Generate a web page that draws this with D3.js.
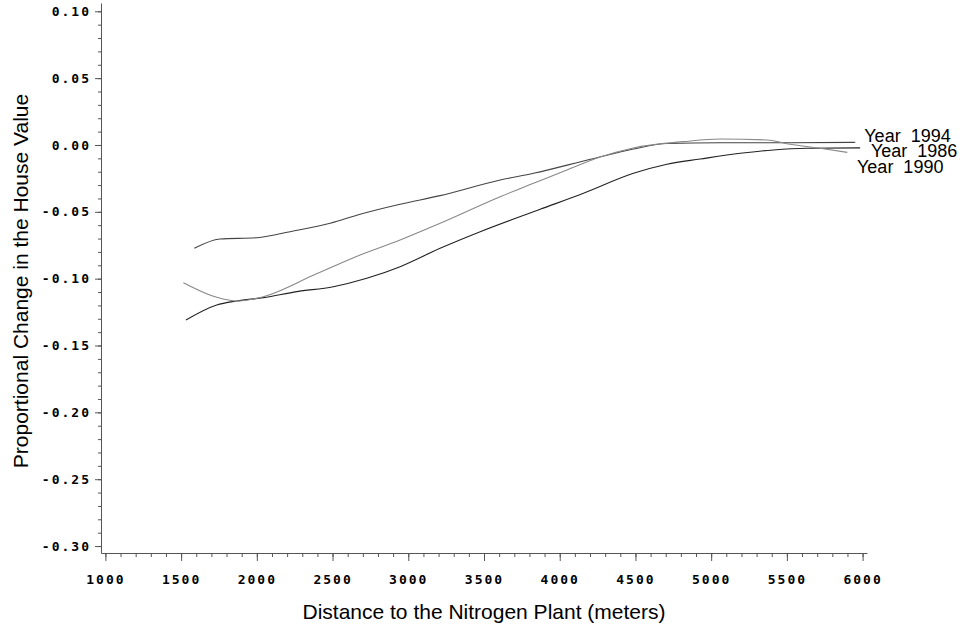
<!DOCTYPE html>
<meta charset="utf-8">
<script src="https://d3js.org/d3.v7.min.js"></script>
<style>
  body { margin: 0; background: #fff; }
  .tick text { font-family: "DejaVu Sans Mono", monospace; font-weight: bold; font-size: 13px; letter-spacing: 2px; fill: #000; }
  .axis path, .axis line { stroke: #555; }
  .title { font-family: "Liberation Sans", Arial, sans-serif; font-size: 21px; fill: #000; }
  .curve-label { font-family: "Liberation Sans", Arial, sans-serif; font-size: 18px; fill: #000; white-space: pre; }
</style>
<div id="chart"></div>
<script>

// tick labels
var xTicks = [1000, 1500, 2000, 2500, 3000, 3500, 4000, 4500, 5000, 5500, 6000];
var yTicks = [-0.30, -0.25, -0.20, -0.15, -0.10, -0.05, 0.00, 0.05, 0.10];

// smoothed curves, distance (m) vs proportional change
var dist1994 = [1587, 1757, 1999, 2241, 2484, 2682, 2946, 3210, 3607, 3827, 4203, 4487, 4708, 5060, 5522, 5952];
var chg1994  = [-0.0773, -0.0703, -0.0694, -0.0643, -0.0586, -0.0518, -0.0443, -0.0379, -0.0262, -0.0212, -0.0107, -0.0030, 0.0011, 0.0017, 0.0017, 0.0020];

var dist1990 = [1515, 1735, 1867, 2043, 2373, 2682, 2946, 3210, 3607, 3827, 4047, 4267, 4485, 4818, 5060, 5369, 5522, 5720, 5899];
var chg1990  = [-0.1030, -0.1139, -0.1167, -0.1135, -0.0975, -0.0823, -0.0711, -0.0586, -0.0387, -0.0287, -0.0187, -0.0090, -0.0022, 0.0025, 0.0045, 0.0037, 0.0005, -0.0025, -0.0055];

var dist1986 = [1532, 1735, 1867, 2043, 2264, 2505, 2726, 2946, 3210, 3475, 3871, 4157, 4487, 4708, 4928, 5192, 5412, 5633, 5984];
var chg1986  = [-0.1309, -0.1197, -0.1167, -0.1142, -0.1097, -0.1060, -0.0997, -0.0910, -0.0773, -0.0649, -0.0481, -0.0361, -0.0212, -0.0144, -0.0105, -0.0062, -0.0037, -0.0025, -0.0022];

// curve labels, anchored in data units at the right end
var seriesNames = ["Year  1994", "Year  1986", "Year  1990"];
var labelDist   = [6011, 6055, 5963];
var labelChg    = [0.0025, -0.0088, -0.0212];

var series = [
  {name: seriesNames[0], xs: dist1994, ys: chg1994, color: "#444"},
  {name: seriesNames[1], xs: dist1986, ys: chg1986, color: "#222"},
  {name: seriesNames[2], xs: dist1990, ys: chg1990, color: "#888"}
];

var W = 962, H = 630;

var svg = d3.select("#chart")
  .append("svg")
    .attr("width", W)
    .attr("height", H);

var x = d3.scaleLinear()
    .domain([971, 6029])
    .range([101, 867]);

var y = d3.scaleLinear()
    .domain([-0.3052, 0.1062])
    .range([553, 3]);

// x axis: minor ticks every 100, labelled majors every 500
svg.append("g")
    .attr("class", "axis")
    .attr("transform", "translate(0,553)")
    .call(d3.axisBottom(x).tickValues(d3.range(1000, 6001, 100)).tickSize(4).tickSizeOuter(0).tickFormat(""));
svg.append("g")
    .attr("class", "axis")
    .attr("transform", "translate(0,553)")
    .call(d3.axisBottom(x).tickValues(xTicks).tickSize(8).tickSizeOuter(0).tickPadding(14).tickFormat(d3.format("d")))
  .select(".domain").remove();

// y axis: minor ticks every 0.01
svg.append("g")
    .attr("class", "axis")
    .attr("transform", "translate(101,0)")
    .call(d3.axisLeft(y).tickValues(d3.range(-30, 11).map(function(d) { return d / 100; })).tickSize(3).tickSizeOuter(0).tickFormat(""));
svg.append("g")
    .attr("class", "axis")
    .attr("transform", "translate(101,0)")
    .call(d3.axisLeft(y).tickValues(yTicks).tickSize(6).tickSizeOuter(0).tickPadding(4)
      .tickFormat(function(d) { return d.toFixed(2); }))
  .select(".domain").remove();

// axis titles
svg.append("text")
    .attr("class", "title")
    .attr("x", 484)
    .attr("y", 619)
    .attr("text-anchor", "middle")
    .text("Distance to the Nitrogen Plant (meters)");

svg.append("text")
    .attr("class", "title")
    .attr("transform", "translate(27.5,281) rotate(-90)")
    .attr("text-anchor", "middle")
    .text("Proportional Change in the House Value");

// curves
var line = d3.line()
    .x(function(d) { return x(d[0]); })
    .y(function(d) { return y(d[1]); })
    .curve(d3.curveMonotoneX);

svg.append("g")
  .selectAll("path")
  .data(series)
  .enter().append("path")
    .attr("fill", "none")
    .attr("stroke", function(d) { return d.color; })
    .attr("stroke-width", 1.1)
    .attr("d", function(d) { return line(d3.zip(d.xs, d.ys)); });

// labels at the curve ends
svg.append("g")
  .selectAll("text")
  .data(seriesNames)
  .enter().append("text")
    .attr("class", "curve-label")
    .attr("x", function(d, i) { return x(labelDist[i]); })
    .attr("y", function(d, i) { return y(labelChg[i]); })
    .text(function(d) { return d; });

</script>
